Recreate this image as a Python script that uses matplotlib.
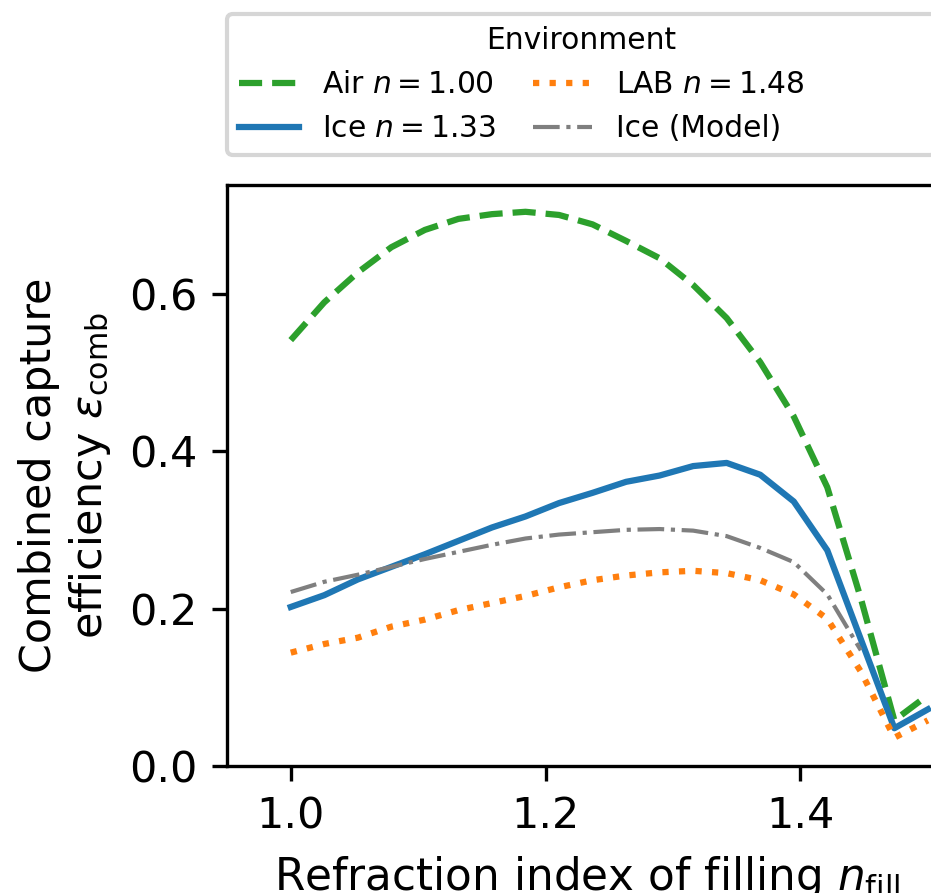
import numpy as np
import matplotlib
matplotlib.use("Agg")
import matplotlib.pyplot as plt
from matplotlib.lines import Line2D

# filling refraction index grid
n_fill = np.linspace(1.0, 1.5, 20)

# combined capture efficiency per environment
eff_air = [0.541, 0.589, 0.627, 0.659, 0.681, 0.695, 0.701, 0.704, 0.700, 0.688,
           0.667, 0.645, 0.611, 0.569, 0.513, 0.444, 0.354, 0.213, 0.058, 0.090]
eff_ice = [0.202, 0.217, 0.237, 0.253, 0.269, 0.286, 0.303, 0.317, 0.334, 0.347,
           0.361, 0.369, 0.381, 0.385, 0.370, 0.336, 0.274, 0.161, 0.048, 0.072]
eff_lab = [0.144, 0.155, 0.163, 0.177, 0.186, 0.198, 0.207, 0.216, 0.227, 0.236,
           0.242, 0.246, 0.248, 0.245, 0.236, 0.218, 0.187, 0.120, 0.036, 0.058]
# model only computed up to n_fill ~ 1.45
eff_model = [0.221, 0.234, 0.243, 0.253, 0.263, 0.272, 0.281, 0.289, 0.294, 0.297,
             0.300, 0.301, 0.299, 0.292, 0.277, 0.259, 0.218, 0.147]

fig = plt.figure(figsize=(932 / 300, 893 / 300), dpi=300)
ax = fig.add_axes([0.2436, 0.1422, 0.7725, 0.6506])

l_air, = ax.plot(n_fill, eff_air, color="tab:green", ls="--", lw=1.5, label="Air $n=1.00$")
l_ice, = ax.plot(n_fill, eff_ice, color="tab:blue", ls="-", lw=1.5, label="Ice $n=1.33$")
l_lab, = ax.plot(n_fill, eff_lab, color="tab:orange", ls=":", lw=1.5, label="LAB $n=1.48$")
l_mod, = ax.plot(n_fill[:len(eff_model)], eff_model, color="tab:gray", ls="-.", lw=1.0,
                 label="Ice (Model)")

ax.set_xlim(0.95, 1.515)
ax.set_ylim(0, 0.738)
ax.set_xticks([1.0, 1.2, 1.4])
ax.set_yticks([0.0, 0.2, 0.4, 0.6])
ax.tick_params(labelsize=10.3)
ax.set_xlabel("Refraction index of filling $n_\\mathrm{fill}$", fontsize=10.5)
ax.set_ylabel("Combined capture\nefficiency $\\varepsilon_\\mathrm{comb}$", fontsize=10.3)

# empty third column keeps the two real columns to the left of the wide frame
blank = Line2D([], [], linestyle="none")
handles = [l_air, l_ice, l_lab, l_mod, blank, blank]
labels = [h.get_label() for h in handles[:4]] + ["", ""]
ax.legend(handles, labels, title="Environment", ncol=3, loc="lower left",
          bbox_to_anchor=(0, 1.0516, 0.985, 0.2), mode="expand", borderaxespad=0,
          fontsize=7.15, title_fontsize=7.15)

fig.savefig("out.png", dpi=300)
